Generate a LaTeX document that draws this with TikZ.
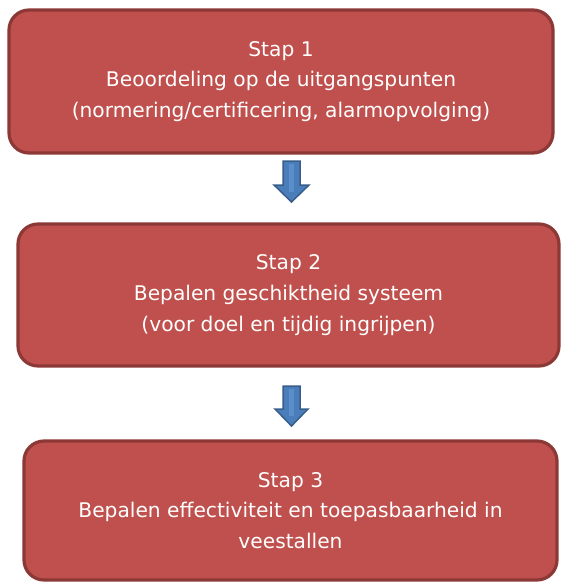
\documentclass[tikz,border=0pt]{standalone}
\usepackage{fontspec}
\setmainfont{DejaVu Sans}
\definecolor{boxfill}{HTML}{C0504D}
\definecolor{boxline}{HTML}{8C3836}
\definecolor{arrfill}{HTML}{4A7EBB}
\definecolor{arrline}{HTML}{385D8A}
\definecolor{arrlight}{HTML}{5B8FCC}
\tikzset{
  stepbox/.style={draw=boxline, line width=3.2pt, fill=boxfill, rounded corners=20pt,
    align=center, text=white, inner sep=0pt,
    font=\fontsize{20.2pt}{30.8pt}\selectfont},
  blockarrow/.style={draw=arrline, line width=1.5pt, fill=arrfill, line join=miter},
}
\begin{document}
\begin{tikzpicture}[x=1pt,y=-1pt]
\useasboundingbox (0,0) rectangle (562,583);
\node[stepbox, minimum width=544pt, minimum height=143pt] (s1) at (281,81.5)
  {Stap 1\\Beoordeling op de uitgangspunten\\(normering/certificering, alarmopvolging)};
\node[stepbox, minimum width=541pt, minimum height=142pt] (s2) at (288.5,295)
  {Stap 2\\Bepalen geschiktheid systeem\\(voor doel en tijdig ingrijpen)};
\node[stepbox, minimum width=533pt, minimum height=139pt] (s3) at (290.5,510.5)
  {Stap 3\\Bepalen effectiviteit en toepasbaarheid in\\veestallen};
% arrow 1
\draw[blockarrow] (283,161) -- (300,161) -- (300,185) -- (309,185) -- (291.5,202) -- (274,185) -- (283,185) -- cycle;
\fill[arrlight] (289,164) rectangle (294,192);
% arrow 2
\draw[blockarrow] (283,386) -- (300,386) -- (300,409) -- (308,409) -- (291.5,426) -- (275,409) -- (283,409) -- cycle;
\fill[arrlight] (289,389) rectangle (294,416);
\end{tikzpicture}
\end{document}
